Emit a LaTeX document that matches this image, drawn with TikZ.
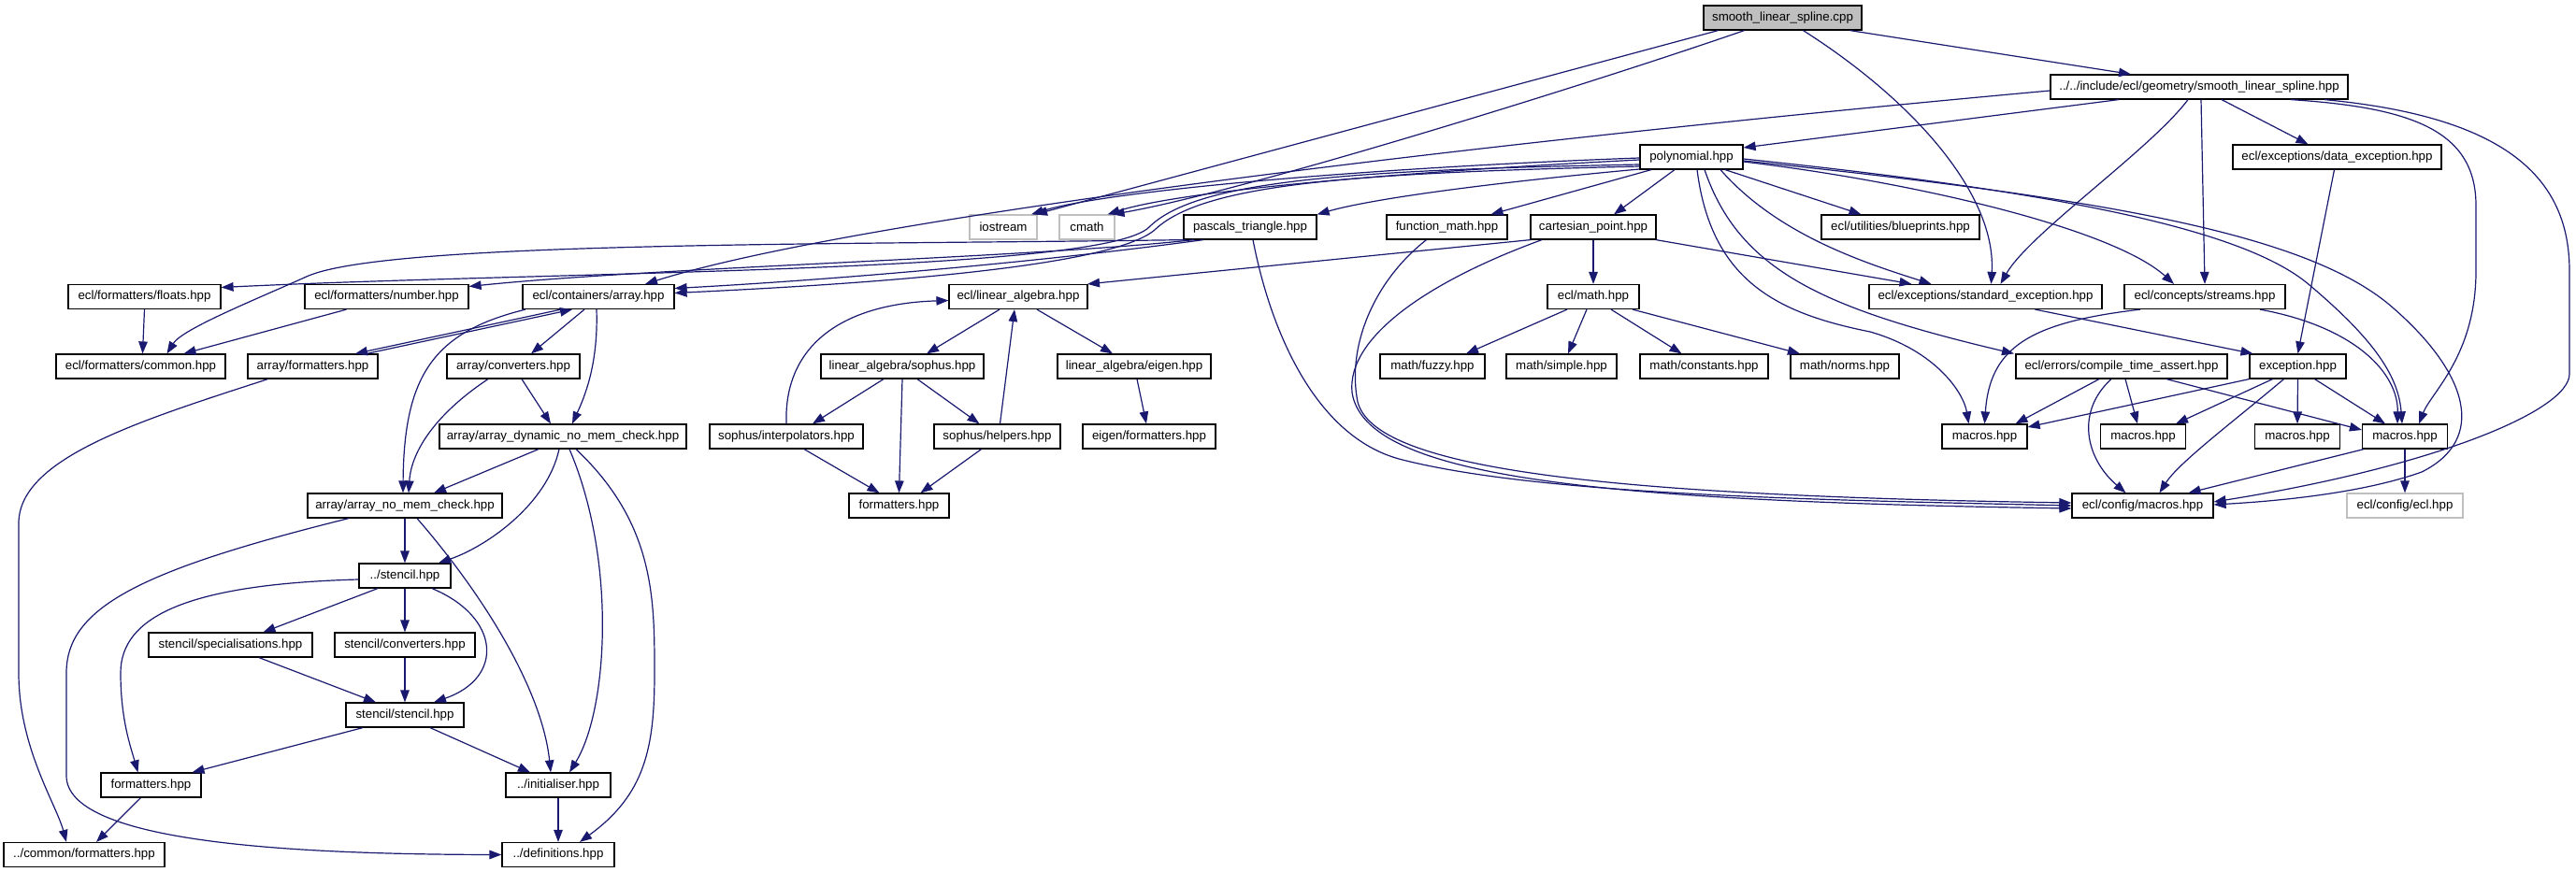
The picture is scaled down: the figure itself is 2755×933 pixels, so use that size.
\documentclass[tikz,border=0pt]{standalone}
\usepackage{fontspec}
\setmainfont{Liberation Sans}
\usetikzlibrary{arrows.meta}
\definecolor{edgeblue}{HTML}{191970}
\definecolor{grey75}{HTML}{BFBFBF}
\begin{document}
\begin{tikzpicture}[x=1pt,y=-1pt,
  box/.style={draw=black,fill=white,line width=1.2pt,minimum height=26pt,inner xsep=1pt,inner ysep=0pt,
    font=\fontsize{13.3}{15}\selectfont,text=black},
  mainnode/.style={fill=grey75},
  extnode/.style={draw=grey75},
  edge/.style={draw=edgeblue,line width=1.2pt,-{Triangle[length=13pt,width=9.5pt]},fill=none}]
\fill[white] (0,0) rectangle (2755,933);
\useasboundingbox (0,0) rectangle (2755,933);
% ---- nodes
\node[box,mainnode,minimum width=169pt] (S) at (1906.5,19) {smooth\_linear\_spline.cpp};
\node[box,minimum width=318pt] (SH) at (2352,93) {../../include/ecl/geometry/smooth\_linear\_spline.hpp};
\node[box,minimum width=110pt] (P) at (1809,168) {polynomial.hpp};
\node[box,minimum width=223pt] (DE) at (2499.5,168) {ecl/exceptions/data\_exception.hpp};
\node[box,extnode,minimum width=72pt] (IO) at (1073,243) {iostream};
\node[box,extnode,minimum width=59pt] (CM) at (1162.5,243) {cmath};
\node[box,minimum width=142pt] (PT) at (1337,243) {pascals\_triangle.hpp};
\node[box,minimum width=129pt] (FM) at (1547.5,243) {function\_math.hpp};
\node[box,minimum width=134pt] (CP) at (1704,243) {cartesian\_point.hpp};
\node[box,minimum width=169pt] (BP) at (2032.5,243) {ecl/utilities/blueprints.hpp};
\node[box,minimum width=163pt] (FL) at (154.5,317.5) {ecl/formatters/floats.hpp};
\node[box,minimum width=175pt] (NU) at (413.5,317.5) {ecl/formatters/number.hpp};
\node[box,minimum width=162pt] (AR) at (640,317.5) {ecl/containers/array.hpp};
\node[box,minimum width=148pt] (LA) at (1089,317.5) {ecl/linear\_algebra.hpp};
\node[box,minimum width=98pt] (MA) at (1704,317.5) {ecl/math.hpp};
\node[box,minimum width=249pt] (SE) at (2123.5,317.5) {ecl/exceptions/standard\_exception.hpp};
\node[box,minimum width=172pt] (ST) at (2358,317.5) {ecl/concepts/streams.hpp};
\node[box,minimum width=181pt] (CO) at (150.5,392) {ecl/formatters/common.hpp};
\node[box,minimum width=139pt] (AF) at (334.5,392) {array/formatters.hpp};
\node[box,minimum width=142pt] (AC) at (549,392) {array/converters.hpp};
\node[box,minimum width=174pt] (SO) at (965,392) {linear\_algebra/sophus.hpp};
\node[box,minimum width=164pt] (EI) at (1213,392) {linear\_algebra/eigen.hpp};
\node[box,minimum width=112pt] (FU) at (1532,392) {math/fuzzy.hpp};
\node[box,minimum width=118pt] (SI) at (1670,392) {math/simple.hpp};
\node[box,minimum width=137pt] (CN) at (1822.5,392) {math/constants.hpp};
\node[box,minimum width=116pt] (NO) at (1973,392) {math/norms.hpp};
\node[box,minimum width=226pt] (CTA) at (2269,392) {ecl/errors/compile\_time\_assert.hpp};
\node[box,minimum width=103pt] (EX) at (2457.5,392) {exception.hpp};
\node[box,minimum width=264pt] (AD) at (602,467) {array/array\_dynamic\_no\_mem\_check.hpp};
\node[box,minimum width=164pt] (INT) at (841,467) {sophus/interpolators.hpp};
\node[box,minimum width=135pt] (HE) at (1066.5,467) {sophus/helpers.hpp};
\node[box,minimum width=142pt] (EF) at (1229,467) {eigen/formatters.hpp};
\node[box,minimum width=91pt] (M1) at (2122.5,467) {macros.hpp};
\node[box,minimum width=91pt] (M2) at (2292,467) {macros.hpp};
\node[box,minimum width=91pt] (M3) at (2457,467) {macros.hpp};
\node[box,minimum width=91pt] (M4) at (2572,467) {macros.hpp};
\node[box,minimum width=208pt] (ANM) at (433,541) {array/array\_no\_mem\_check.hpp};
\node[box,minimum width=107pt] (FS) at (961.5,541) {formatters.hpp};
\node[box,minimum width=151pt] (CFG) at (2291.5,541) {ecl/config/macros.hpp};
\node[box,extnode,minimum width=124pt] (ECL) at (2572,541) {ecl/config/ecl.hpp};
\node[box,minimum width=98pt] (STN) at (433,616) {../stencil.hpp};
\node[box,minimum width=175pt] (SPEC) at (246.5,690) {stencil/specialisations.hpp};
\node[box,minimum width=150pt] (SCONV) at (433,690) {stencil/converters.hpp};
\node[box,minimum width=126pt] (SS) at (433,765) {stencil/stencil.hpp};
\node[box,minimum width=107pt] (FMT) at (161.5,840) {formatters.hpp};
\node[box,minimum width=112pt] (INI) at (597,840) {../initialiser.hpp};
\node[box,minimum width=172pt] (CF) at (90,914.5) {../common/formatters.hpp};
\node[box,minimum width=120pt] (DEF) at (597,914.5) {../definitions.hpp};
% ---- edges from smooth_linear_spline.cpp
\draw[edge] ([xshift=-69pt]S.south) -- ([xshift=34pt]IO.north);
\draw[edge] ([xshift=-41pt]S.south) .. controls (1700,90) and (1330,205) .. ([xshift=27pt]CM.north);
\draw[edge] ([xshift=22pt]S.south) .. controls (2050,110) and (2135,210) .. ([xshift=6pt]SE.north);
\draw[edge] ([xshift=72pt]S.south) -- ([xshift=-73pt]SH.north);
% ---- edges from smooth_linear_spline.hpp
\draw[edge] ([yshift=-4pt]SH.west) .. controls (1500,160) and (900,238) .. ([xshift=50pt]AR.north);
\draw[edge] ([xshift=-86pt]SH.south) -- ([yshift=10pt]P.east);
\draw[edge] ([xshift=-12pt]SH.south) .. controls (2300,160) and (2170,250) .. ([xshift=16pt]SE.north);
\draw[edge] ([xshift=2pt]SH.south) -- (ST.north);
\draw[edge] ([xshift=24pt]SH.south) -- ([xshift=-31pt]DE.north);
\draw[edge] ([xshift=98pt]SH.south) .. controls (2580,115) and (2648,140) .. (2648,220) -- (2648,290) .. controls (2648,380) and (2600,420) .. ([xshift=15pt]M4.north);
\draw[edge] ([xshift=134pt]SH.south) .. controls (2680,125) and (2748,190) .. (2748,290) -- (2748,400) .. controls (2748,440) and (2600,500) .. ([yshift=4pt]CFG.east);
% ---- edges from polynomial.hpp
\draw[edge] ([yshift=-1pt]P.west) .. controls (1450,180) and (1180,205) .. ([xshift=30pt]IO.north);
\draw[edge] ([yshift=-3pt]P.west) .. controls (1480,185) and (1260,205) .. ([xshift=22pt]CM.north);
\draw[edge] ([yshift=-13pt]P.west) .. controls (1600,195) and (1470,212) .. (PT.north east);
\draw[edge] ([yshift=-8pt]P.west) .. controls (1450,182) and (1280,192) .. (1229,243) .. controls (1180,292) and (600,290) .. ([yshift=10pt]FL.east);
\draw[edge] ([yshift=-10pt]P.west) .. controls (1460,185) and (1290,195) .. (1236,245) .. controls (1190,288) and (900,305) .. ([yshift=4pt]AR.east);
\draw[edge] ([xshift=-43pt]P.south) -- ([xshift=47pt]FM.north);
\draw[edge] ([xshift=-18pt]P.south) -- ([xshift=22pt]CP.north);
\draw[edge] ([xshift=36pt]P.south) -- ([xshift=-42pt]BP.north);
\draw[edge] ([xshift=31pt]P.south) .. controls (1900,250) and (1990,280) .. ([xshift=-58pt]SE.north);
\draw[edge] ([yshift=-5pt]P.east) .. controls (2050,195) and (2260,245) .. ([xshift=-33pt]ST.north);
\draw[edge] ([xshift=14pt]P.south) .. controls (1860,290) and (1950,330) .. ([xshift=-115pt]CTA.north);
\draw[edge] ([xshift=6pt]P.south) .. controls (1830,300) and (1900,335) .. (2000,355) .. controls (2070,375) and (2100,420) .. ([xshift=-17pt]M1.north);
\draw[edge] ([yshift=-2pt]P.east) .. controls (2200,205) and (2400,245) .. (2470,305) .. controls (2535,360) and (2565,400) .. ([xshift=-3pt]M4.north);
\draw[edge] ([yshift=-4pt]P.east) .. controls (2250,212) and (2470,250) .. (2560,330) .. controls (2640,400) and (2660,470) .. (2590,505) .. controls (2520,530) and (2420,537) .. ([yshift=1pt]CFG.east);
% ---- edges from pascals_triangle.hpp
\draw[edge] ([xshift=-60pt]PT.south) .. controls (1100,276) and (700,286) .. ([yshift=11pt]NU.east);
\draw[edge] ([xshift=-50pt]PT.south) .. controls (1100,282) and (880,300) .. ([yshift=9pt]AR.east);
\draw[edge] ([xshift=-69pt]PT.south) .. controls (900,262) and (420,258) .. (330,295) .. controls (270,322) and (195,352) .. ([xshift=28pt]CO.north);
\draw[edge] ([xshift=3pt]PT.south) .. controls (1360,360) and (1410,470) .. (1500,492) .. controls (1650,530) and (1950,535) .. (CFG.west);
% ---- function_math / cartesian_point
\draw[edge] ([xshift=-22pt]FM.south) .. controls (1470,300) and (1440,370) .. (1452,430) .. controls (1470,500) and (1700,530) .. ([yshift=3pt]CFG.west);
\draw[edge] ([xshift=-55pt]CP.south) .. controls (1530,300) and (1440,360) .. (1446,420) .. controls (1460,510) and (1700,536) .. ([yshift=-3pt]CFG.west);
\draw[edge] (CP.south) -- (MA.north);
\draw[edge] ([xshift=-67pt]CP.south) -- ([xshift=74pt]LA.north);
\draw[edge] ([xshift=67pt]CP.south) -- ([xshift=-79pt]SE.north);
% ---- ecl/math.hpp
\draw[edge] ([xshift=-28pt]MA.south) -- ([xshift=36pt]FU.north);
\draw[edge] ([xshift=-7pt]MA.south) -- ([xshift=7pt]SI.north);
\draw[edge] ([xshift=19pt]MA.south) -- ([xshift=-24pt]CN.north);
\draw[edge] ([xshift=42pt]MA.south) -- ([xshift=-48pt]NO.north);
% ---- linear algebra
\draw[edge] ([xshift=-20pt]LA.south) -- ([xshift=26pt]SO.north);
\draw[edge] ([xshift=20pt]LA.south) -- ([xshift=-23pt]EI.north);
\draw[edge] ([xshift=-20pt]SO.south) -- ([xshift=28pt]INT.north);
\draw[edge] (SO.south) -- (FS.north);
\draw[edge] ([xshift=16pt]SO.south) -- ([xshift=-19pt]HE.north);
\draw[edge] ([xshift=3pt]HE.north) -- ([xshift=-4pt]LA.south);
\draw[edge] (INT.north) .. controls (838,370) and (900,325) .. ([yshift=-4pt]LA.west);
\draw[edge] ([xshift=19pt]INT.south) -- ([xshift=-21pt]FS.north);
\draw[edge] ([xshift=-17pt]HE.south) -- ([xshift=23pt]FS.north);
\draw[edge] ([xshift=3pt]EI.south) -- ([xshift=-3pt]EF.north);
% ---- array group
\draw[edge] ([xshift=-40pt]AR.south) -- ([xshift=45.5pt]AF.north);
\draw[edge] ([xshift=57.5pt]AF.north) -- ([xshift=-28pt]AR.south);
\draw[edge] ([xshift=-15pt]AR.south) -- ([xshift=19pt]AC.north);
\draw[edge] ([xshift=-2pt]AR.south) .. controls (640,390) and (625,425) .. ([xshift=10pt]AD.north);
\draw[edge] ([xshift=-78pt]AR.south) .. controls (465,355) and (432,400) .. ([xshift=-2pt]ANM.north);
\draw[edge] ([xshift=-48pt]AF.south) .. controls (150,450) and (20,490) .. (20,560) -- (20,720) .. controls (20,800) and (60,860) .. ([xshift=-19pt]CF.north);
\draw[edge] ([xshift=9pt]AC.south) -- ([xshift=-13pt]AD.north);
\draw[edge] ([xshift=-27pt]AC.south) .. controls (470,440) and (440,480) .. ([xshift=4pt]ANM.north);
\draw[edge] ([xshift=-26pt]AD.south) -- ([xshift=31pt]ANM.north);
\draw[edge] ([xshift=-4pt]AD.south) .. controls (585,540) and (520,585) .. ([xshift=36pt]STN.north);
\draw[edge] ([xshift=7pt]AD.south) .. controls (660,600) and (650,760) .. ([xshift=12pt]INI.north);
\draw[edge] ([xshift=14pt]AD.south) .. controls (700,560) and (700,640) .. (700,720) .. controls (700,800) and (690,850) .. ([xshift=23pt]DEF.north);
\draw[edge] (ANM.south) -- (STN.north);
\draw[edge] ([xshift=13pt]ANM.south) .. controls (520,640) and (580,740) .. ([xshift=-8pt]INI.north);
\draw[edge] ([xshift=-60pt]ANM.south) .. controls (150,610) and (71,650) .. (71,720) -- (71,830) .. controls (71,900) and (300,914) .. (DEF.west);
\draw[edge] ([xshift=-29pt]STN.south) -- ([xshift=35pt]SPEC.north);
\draw[edge] (STN.south) -- (SCONV.north);
\draw[edge] ([xshift=29pt]STN.south) .. controls (535,660) and (540,725) .. ([xshift=31pt]SS.north);
\draw[edge] ([yshift=-4pt]STN.west) .. controls (200,625) and (129,660) .. (129,720) .. controls (129,770) and (140,800) .. ([xshift=-14pt]FMT.north);
\draw[edge] ([xshift=30.5pt]SPEC.south) -- ([xshift=-31pt]SS.north);
\draw[edge] (SCONV.south) -- (SS.north);
\draw[edge] ([xshift=-45pt]SS.south) -- ([xshift=44pt]FMT.north);
\draw[edge] ([xshift=27pt]SS.south) -- ([xshift=-30pt]INI.north);
\draw[edge] ([xshift=-11pt]FMT.south) -- ([xshift=13pt]CF.north);
\draw[edge] (INI.south) -- (DEF.north);
\draw[edge] (FL.south) -- ([xshift=2pt]CO.north);
\draw[edge] ([xshift=-43pt]NU.south) -- ([xshift=46pt]CO.north);
% ---- exceptions / macros group
\draw[edge] ([xshift=-3pt]DE.south) -- (EX.north);
\draw[edge] ([xshift=53pt]SE.south) -- ([xshift=-48pt]EX.north);
\draw[edge] ([xshift=-69pt]ST.south) .. controls (2170,345) and (2128,372) .. (M1.north);
\draw[edge] ([xshift=59pt]ST.south) .. controls (2520,350) and (2565,400) .. ([xshift=-8pt]M4.north);
\draw[edge] ([xshift=-24pt]CTA.south) -- ([xshift=33pt]M1.north);
\draw[edge] ([xshift=-11pt]CTA.south) .. controls (2220,440) and (2230,490) .. ([xshift=-18pt]CFG.north);
\draw[edge] ([xshift=4pt]CTA.south) -- ([xshift=-6pt]M2.north);
\draw[edge] ([xshift=48pt]CTA.south) -- ([yshift=7pt]M4.west);
\draw[edge] (EX.south west) -- ([yshift=10pt]M1.east);
\draw[edge] ([xshift=-27pt]EX.south) -- ([xshift=35pt]M2.north);
\draw[edge] ([xshift=-15pt]EX.south) .. controls (2390,450) and (2330,495) .. ([xshift=18pt]CFG.north);
\draw[edge] (EX.south) -- (M3.north);
\draw[edge] ([xshift=18pt]EX.south) -- ([xshift=-21pt]M4.north);
\draw[edge] ([xshift=-44pt]M4.south) -- ([xshift=49pt]CFG.north);
\draw[edge] (M4.south) -- (ECL.north);
\end{tikzpicture}
\end{document}
